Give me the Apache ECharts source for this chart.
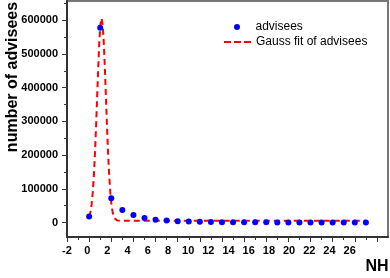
<!DOCTYPE html>
<html>
<head>
<meta charset="utf-8">
<script src="https://cdn.jsdelivr.net/npm/echarts@6/dist/echarts.min.js"></script>
<style>
html,body{margin:0;padding:0;background:#fff;}
#chart{width:390px;height:278px;}
</style>
</head>
<body>
<div id="chart"></div>
<script>
// Data
const nhValues = [0,1,2,3,4,5,6,7,8,9,10,11,12,13,14,15,16,17,18,19,20,21,22,23,24,25];
const adviseeCounts = [18000,578000,72000,37000,22000,13000,8000,6000,4000,3000,2000,1500,1000,800,600,500,400,300,300,200,200,200,100,100,100,100];
// Gauss fit curve, sampled along the dashed line
const fitX = [0,0.12,0.22,0.32,0.42,0.52,0.62,0.72,0.82,0.92,1.02,1.12,1.22,1.32,1.42,1.52,1.62,1.72,1.82,1.92,2.02,2.12,2.22,2.32,2.42,2.52,2.62,2.82,3,25];
const fitY = [17000,31400,52800,86300,135000,200100,280100,369500,458600,535400,587500,606000,587500,535400,458600,369500,280100,200100,135000,86300,52800,31400,18700,11700,8100,6300,5500,5100,5000,5000];
const xMajorTicks = [-2,0,2,4,6,8,10,12,14,16,18,20,22,24,26];
const xMinorTicks = [-1,1,3,5,7,9,11,13,15,17,19,21,23,25];
const yMajorTicks = [0,100000,200000,300000,400000,500000,600000];
const yMinorTicks = [50000,150000,250000,350000,450000,550000,650000];
const seriesNames = ['advisees','Gauss fit of advisees'];
const xTitle = 'NH';
const yTitle = 'number of advisees';

const FONT = '"Liberation Sans", Arial, Helvetica, sans-serif';
const AXIS_COLOR = '#333';
const X_MIN = -2, X_MAX = 27, Y_MIN = -43000, Y_MAX = 657000;
const X_LABEL_LAST = 26, X_LABEL_AXIS_MAX = 30;
const DASH_ICON = 'path://M0,0h7v2h-7z M10,0h7v2h-7z M20,0h7v2h-7z';

const chart = echarts.init(document.getElementById('chart'), null, {renderer:'canvas'});

const scatterData = nhValues.map((x,i)=>[x, adviseeCounts[i]]);
const fitData = fitX.map((x,i)=>[x, fitY[i]]);

// plot grid: 321 px for 29 units; label grid uses the same scale but runs further right
const GRID_LEFT = 67, GRID_WIDTH = 321;
const LABEL_GRID_WIDTH = Math.round(GRID_WIDTH * (X_LABEL_AXIS_MAX - X_MIN) / (X_MAX - X_MIN));

const option = {
  animation: false,
  backgroundColor: '#fff',
  grid: [
    {left:GRID_LEFT, top:1, width:GRID_WIDTH, bottom:41, show:true, borderColor:'#777', borderWidth:2, backgroundColor:'transparent'},
    {left:GRID_LEFT, top:1, width:LABEL_GRID_WIDTH, bottom:41, show:false}
  ],
  xAxis: [{
    gridIndex:0, type:'value', min:X_MIN, max:X_MAX, interval:2, position:'bottom',
    axisLine:{show:true, onZero:false, lineStyle:{color:AXIS_COLOR, width:2}},
    axisTick:{show:true, length:5, customValues:xMajorTicks, lineStyle:{color:AXIS_COLOR, width:1}},
    axisLabel:{show:false},
    splitLine:{show:false}
  },{
    gridIndex:0, type:'value', min:X_MIN, max:X_MAX, interval:2, position:'bottom',
    axisLine:{show:false, onZero:false},
    axisTick:{show:true, length:3, customValues:xMinorTicks, lineStyle:{color:AXIS_COLOR, width:1}},
    axisLabel:{show:false},
    splitLine:{show:false}
  },{
    gridIndex:1, type:'value', min:X_MIN, max:X_LABEL_AXIS_MAX, interval:2, position:'bottom',
    axisLine:{show:false, onZero:false},
    axisTick:{show:false},
    axisLabel:{show:true, margin:8, color:'#000', fontFamily:FONT, fontWeight:'bold', fontSize:11,
      showMinLabel:true, showMaxLabel:false, hideOverlap:false,
      formatter:(v)=> (v > X_LABEL_LAST ? '' : String(v))},
    splitLine:{show:false}
  }],
  yAxis: [{
    gridIndex:0, type:'value', min:Y_MIN, max:Y_MAX, position:'left',
    axisLine:{show:true, onZero:false, lineStyle:{color:AXIS_COLOR, width:2}},
    axisTick:{show:true, length:5, customValues:yMajorTicks, lineStyle:{color:AXIS_COLOR, width:1}},
    axisLabel:{show:true, customValues:yMajorTicks, margin:9, color:'#000', fontFamily:FONT, fontWeight:'bold', fontSize:11,
      showMinLabel:true, showMaxLabel:true, hideOverlap:false, formatter:(v)=>String(v)},
    splitLine:{show:false}
  },{
    gridIndex:0, type:'value', min:Y_MIN, max:Y_MAX, position:'left',
    axisLine:{show:false, onZero:false},
    axisTick:{show:true, length:3, customValues:yMinorTicks, lineStyle:{color:AXIS_COLOR, width:1}},
    axisLabel:{show:false},
    splitLine:{show:false}
  },{
    gridIndex:1, type:'value', min:Y_MIN, max:Y_MAX, position:'left', show:false
  }],
  legend: [{
    data:[seriesNames[0]], orient:'vertical', left:234, top:21, padding:0,
    itemWidth:27, itemHeight:6, itemGap:4,
    textStyle:{color:'#000', fontFamily:FONT, fontSize:12}
  },{
    data:[{name:seriesNames[1], icon:DASH_ICON, itemStyle:{color:'#ff0000', borderWidth:0}}], orient:'vertical', left:224, top:36, padding:0,
    itemWidth:27, itemHeight:2, itemGap:4, symbolKeepAspect:false,
    textStyle:{color:'#000', fontFamily:FONT, fontSize:12}
  }],
  graphic: [{
    type:'text', x:13, y:77, rotation:Math.PI/2,
    style:{text:yTitle, font:'bold 16px '+FONT, fill:'#000', align:'center', verticalAlign:'middle'}
  },{
    type:'text', x:377, y:267,
    style:{text:xTitle, font:'bold 16px '+FONT, fill:'#000', align:'center', verticalAlign:'middle'}
  }],
  series: [{
    name:seriesNames[1], type:'line', xAxisIndex:0, yAxisIndex:0,
    data:fitData, symbol:'none', smooth:false,
    lineStyle:{color:'#ff0000', width:2, type:[6,4]},
    itemStyle:{color:'#ff0000'}, z:2
  },{
    name:seriesNames[0], type:'scatter', xAxisIndex:0, yAxisIndex:0,
    data:scatterData, symbol:'circle', symbolSize:6,
    itemStyle:{color:'#0000ff', opacity:1}, z:3
  }]
};
chart.setOption(option);
</script>
</body>
</html>
